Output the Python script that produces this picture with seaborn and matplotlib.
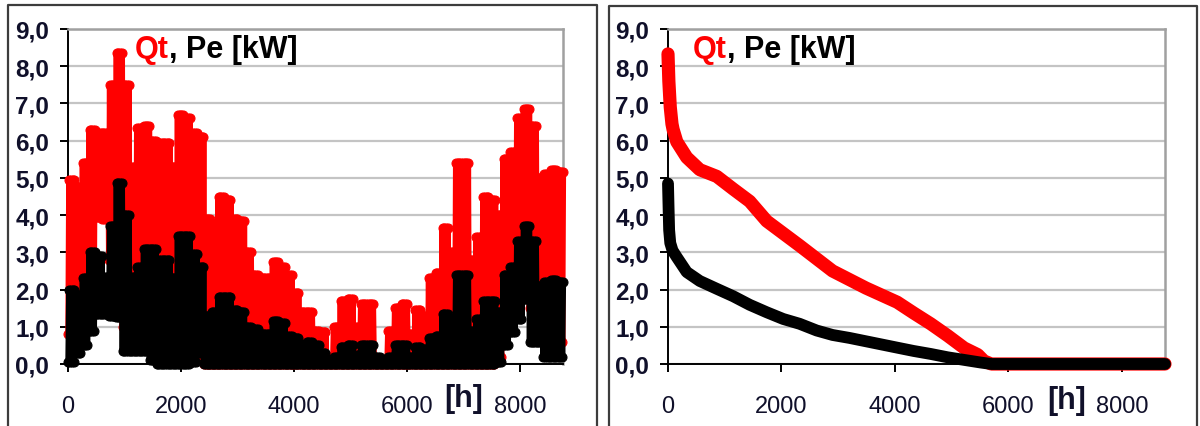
import numpy as np
import pandas as pd
import matplotlib
matplotlib.use("Agg")
import matplotlib.pyplot as plt
from matplotlib.lines import Line2D
import seaborn as sns

# ---- hourly load profile, summarised per 120-hour block (upper / lower envelope) ----
BLOCK_HOURS = 120
qt_high = [4.95, 4.75, 5.4, 6.3, 6.2, 6.2, 7.5, 8.35, 7.5, 5.3, 6.35, 6.4, 6.0, 5.95, 5.95,
           5.3, 6.7, 6.6, 6.2, 6.1, 3.9, 3.75, 4.5, 4.4, 3.9, 3.85, 3.0, 2.4, 2.3, 2.3,
           2.75, 2.6, 2.4, 1.9, 1.4, 1.4, 0.9, 0.85, 0.2, 1.0, 1.7, 1.75, 1.0, 1.6, 1.6,
           0.1, 0.1, 0.9, 1.5, 1.6, 0.8, 1.45, 1.3, 2.3, 2.45, 3.65, 3.0, 5.4, 5.4, 2.8,
           3.4, 4.5, 4.4, 4.0, 5.5, 5.7, 6.6, 6.85, 6.4, 5.0, 5.1, 5.2, 5.15]
qt_low = [0.8, 1.0, 1.5, 2.5, 3.95, 3.9, 2.8, 2.5, 1.0, 0.8, 0.8, 0.8, 0.4, 0.2, 0.2,
          0.2, 0.2, 0.2, 0.2, 0.4, 0.0, 0.0, 0.0, 0.0, 0.0, 0.0, 0.0, 0.0, 0.0, 0.0,
          0.0, 0.0, 0.0, 0.0, 0.0, 0.0, 0.0, 0.0, 0.0, 0.0, 0.0, 0.0, 0.0, 0.0, 0.0,
          0.0, 0.0, 0.0, 0.0, 0.0, 0.0, 0.0, 0.0, 0.0, 0.0, 0.0, 0.0, 0.0, 0.0, 0.0,
          0.0, 0.0, 0.0, 0.2, 1.2, 1.8, 2.5, 3.0, 1.5, 1.2, 0.6, 0.6, 0.6]
pe_high = [2.0, 1.85, 2.3, 3.0, 2.9, 2.35, 3.7, 4.85, 4.0, 2.35, 2.6, 3.1, 3.1, 2.8, 2.8,
           2.3, 3.45, 3.45, 2.95, 2.6, 1.3, 1.4, 1.8, 1.8, 1.45, 1.4, 1.0, 0.95, 0.8, 0.8,
           1.15, 1.1, 0.75, 0.7, 0.5, 0.6, 0.5, 0.3, 0.1, 0.2, 0.45, 0.5, 0.25, 0.5, 0.5,
           0.2, 0.1, 0.2, 0.5, 0.5, 0.2, 0.45, 0.4, 0.7, 0.75, 1.35, 1.2, 2.4, 2.4, 0.9,
           1.2, 1.7, 1.7, 1.4, 2.4, 2.6, 3.3, 3.7, 3.3, 2.1, 2.2, 2.25, 2.2]
pe_low = [0.05, 0.3, 0.5, 0.9, 1.35, 1.35, 1.3, 1.25, 0.35, 0.35, 0.35, 0.35, 0.1, 0.0, 0.0,
          0.0, 0.0, 0.0, 0.05, 0.3, 0.0, 0.0, 0.0, 0.0, 0.0, 0.0, 0.0, 0.0, 0.0, 0.0,
          0.0, 0.0, 0.0, 0.0, 0.0, 0.0, 0.0, 0.0, 0.0, 0.0, 0.0, 0.0, 0.0, 0.0, 0.0,
          0.0, 0.0, 0.0, 0.0, 0.0, 0.0, 0.0, 0.0, 0.0, 0.0, 0.0, 0.0, 0.0, 0.0, 0.0,
          0.0, 0.0, 0.0, 0.05, 0.5, 0.85, 1.2, 1.75, 0.6, 0.6, 0.2, 0.2, 0.2]

# ---- load duration curves (values sorted in descending order) ----
qt_dur_hours = [0, 15, 40, 70, 90, 155, 330, 560, 860, 1150, 1440, 1740, 2320, 2900, 3490,
                4040, 4330, 4630, 4930, 5220, 5460, 5570, 5700, 8760]
qt_dur_kw = [8.33, 7.6, 6.9, 6.45, 6.3, 5.97, 5.55, 5.22, 5.04, 4.7, 4.37, 3.84, 3.18, 2.5,
             2.04, 1.66, 1.37, 1.08, 0.76, 0.43, 0.25, 0.08, 0.0, 0.0]
pe_dur_hours = [0, 10, 20, 40, 80, 155, 330, 560, 860, 1150, 1440, 1740, 2030, 2320, 2620,
                2900, 3200, 3490, 3780, 4070, 4330, 4630, 4930, 5220, 5510, 5700, 8760]
pe_dur_kw = [4.85, 4.2, 3.6, 3.25, 3.05, 2.87, 2.47, 2.23, 2.02, 1.82, 1.59, 1.39, 1.21,
             1.08, 0.9, 0.78, 0.7, 0.61, 0.52, 0.43, 0.35, 0.27, 0.18, 0.11, 0.04, 0.0, 0.0]

y_ticks = list(range(0, 10))
y_tick_labels = ["0,0", "1,0", "2,0", "3,0", "4,0", "5,0", "6,0", "7,0", "8,0", "9,0"]
x_ticks = [0, 2000, 4000, 6000, 8000]
x_tick_labels = ["0", "2000", "4000", "6000", "8000"]

RED = "#ff0000"
BLACK = "#000000"
TEXT = "#10102a"

sns.set_theme(style="white")
plt.rcParams["font.family"] = ["Liberation Sans", "DejaVu Sans"]


def envelope_frame(low, high, strokes=8):
    """Dense zig-zag between the lower and upper envelope inside each block."""
    rows_h, rows_v = [], []
    step = BLOCK_HOURS / strokes
    for i, (lo, hi) in enumerate(zip(low, high)):
        start = i * BLOCK_HOURS + step / 2
        for k in range(strokes):
            rows_h.append(start + k * step)
            rows_v.append(lo if k % 2 == 0 else hi)
    return pd.DataFrame({"hour": rows_h, "kw": rows_v})


fig = plt.figure(figsize=(12, 4.27), dpi=100)
W, H = 1200, 427
ax1 = fig.add_axes([68 / W, 1 - 365 / H, 495.4 / W, 335 / H])
ax2 = fig.add_axes([668 / W, 1 - 365 / H, 497 / W, 335 / H])

# left: hourly profile
qt_df = envelope_frame(qt_low, qt_high)
pe_df = envelope_frame(pe_low, pe_high)
sns.lineplot(data=qt_df, x="hour", y="kw", ax=ax1, color=RED, lw=4.5, marker="o",
             markersize=6.5, markeredgecolor=RED, estimator=None, sort=False,
             clip_on=False, zorder=3)
sns.lineplot(data=pe_df, x="hour", y="kw", ax=ax1, color=BLACK, lw=4.5, marker="o",
             markersize=6.5, markeredgecolor=BLACK, estimator=None, sort=False,
             clip_on=False, zorder=4)

# right: duration curves
sns.lineplot(x=qt_dur_hours, y=qt_dur_kw, ax=ax2, color=RED, lw=9.5, estimator=None,
             sort=False, solid_capstyle="round", solid_joinstyle="round",
             clip_on=False, zorder=3)
sns.lineplot(x=pe_dur_hours, y=pe_dur_kw, ax=ax2, color=BLACK, lw=8.5, estimator=None,
             sort=False, solid_capstyle="round", solid_joinstyle="round",
             clip_on=False, zorder=4)

for ax, title_x, hx, hy in [(ax1, 0.135, 0.798, -0.101), (ax2, 0.05, 0.803, -0.107)]:
    ax.set_xlim(0, 8760)
    ax.set_ylim(0, 9)
    ax.set_yticks(y_ticks)
    ax.set_yticklabels(y_tick_labels, fontsize=17.5, fontweight="bold", color=TEXT)
    ax.set_xticks(x_ticks)
    ax.set_xticklabels(x_tick_labels, fontsize=17, color=TEXT)
    ax.set_xlabel("")
    ax.set_ylabel("")
    ax.yaxis.grid(True, color="#c4c4c4", lw=1.6)
    ax.xaxis.grid(False)
    ax.set_axisbelow(True)
    for side in ("left", "bottom"):
        ax.spines[side].set_color(BLACK)
        ax.spines[side].set_linewidth(1.4)
    for side in ("top", "right"):
        ax.spines[side].set_color("#a0a0a0")
        ax.spines[side].set_linewidth(1.8)
    ax.tick_params(axis="y", left=True, direction="out", length=5.5, width=1.4,
                   color=BLACK, pad=8)
    ax.tick_params(axis="x", bottom=True, direction="out", length=6, width=1.4,
                   color=BLACK, pad=16)

    t1 = ax.text(title_x, 0.94, "Qt", transform=ax.transAxes, fontsize=22,
                 fontweight="bold", color=RED, ha="left", va="center", zorder=6)
    ax.annotate(", Pe [kW]", xy=(1, 0), xycoords=t1, ha="left", va="bottom",
                fontsize=22, fontweight="bold", color=BLACK, zorder=6)
    ax.text(hx, hy, "[h]", transform=ax.transAxes, fontsize=22, fontweight="bold",
            color=TEXT, ha="center", va="center")

# panel frames
for x0, x1, ytop in [(8, 597, 6), (609, 1197, 7)]:
    fig.add_artist(Line2D([x0 / W, x0 / W, x1 / W, x1 / W], [0, 1 - ytop / H, 1 - ytop / H, 0],
                          transform=fig.transFigure, color="#3c3c3c", lw=1.6))

fig.savefig("out.png", dpi=100, facecolor="white")
